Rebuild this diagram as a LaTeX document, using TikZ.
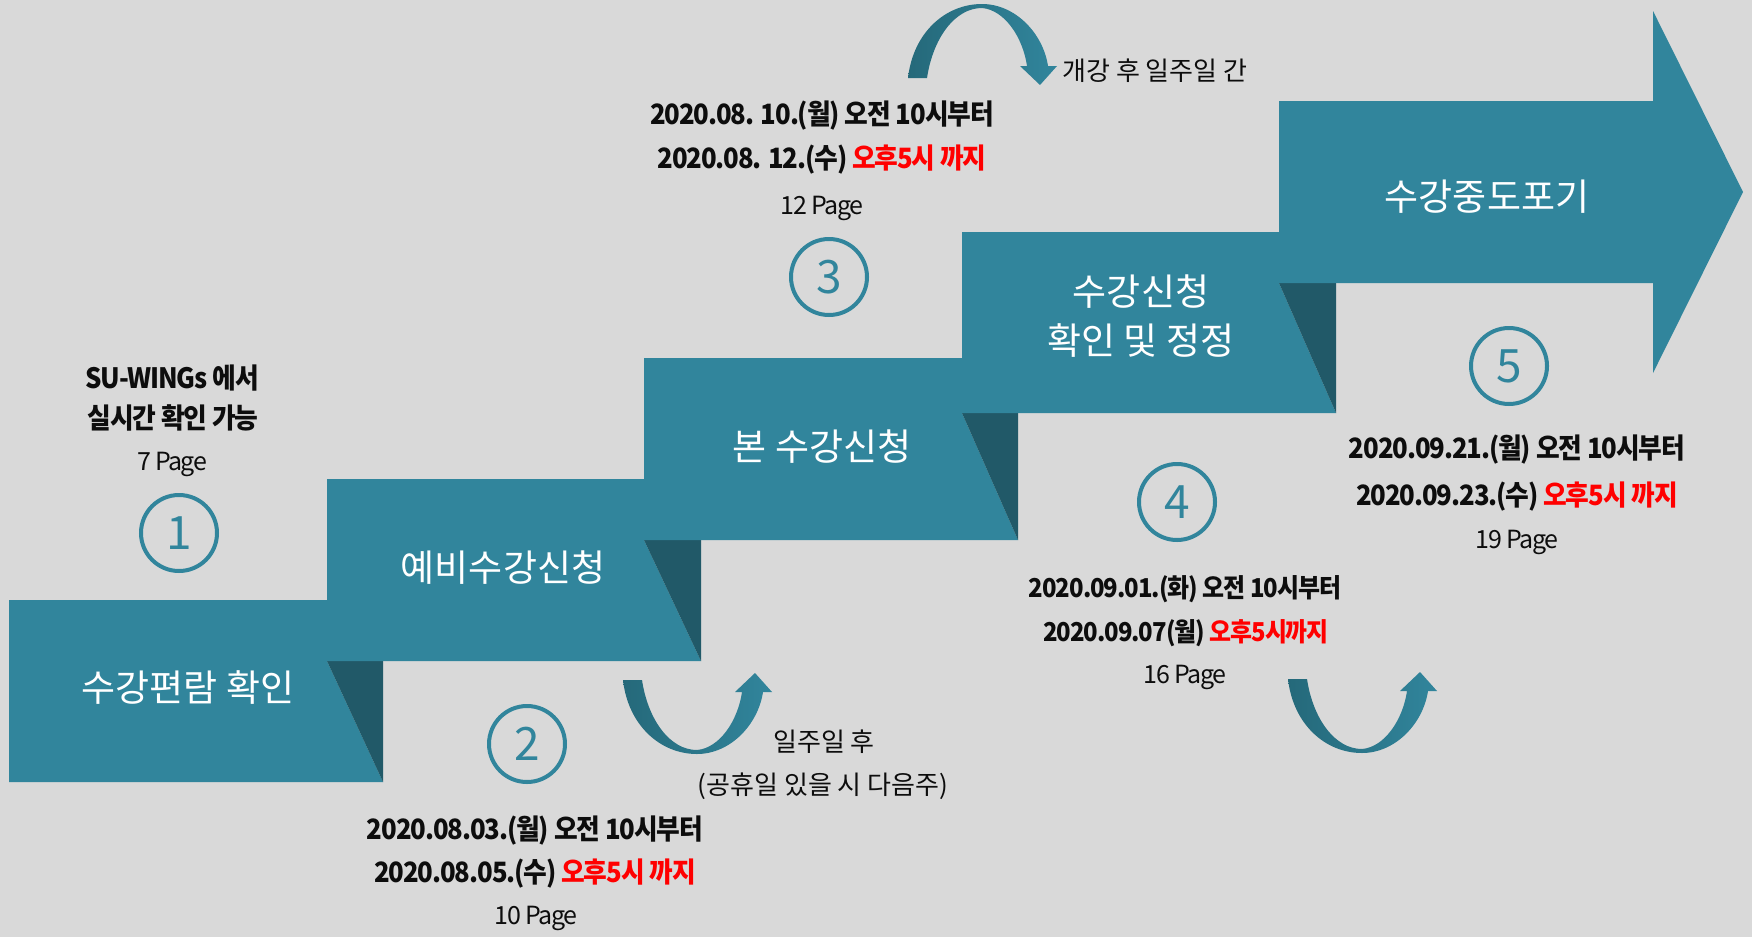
\documentclass[tikz,border=0pt]{standalone}
\usepackage{fontspec}
\setmainfont{Noto Sans CJK KR}
\newfontfamily\dfont[LetterSpace=-4,FakeStretch=0.92]{Noto Sans CJK KR}
\newfontfamily\pfont[LetterSpace=-6]{Noto Sans CJK KR}
\definecolor{bgc}{HTML}{D9D9D9}
\definecolor{tealc}{HTML}{31859C}
\definecolor{darkc}{HTML}{215968}
\definecolor{arrdark}{HTML}{25697A}
\definecolor{redc}{HTML}{FF0000}
\definecolor{txtc}{HTML}{0D0D0D}
\newcommand\bentarrow{%
  \shade[left color=arrdark, right color=tealc]
    (0,0) .. controls (5,45) and (37,74) .. (74,74)
    .. controls (107,74) and (135,45) .. (140,12)
    -- (149,12) -- (132,-7) -- (112,12) -- (119,12)
    .. controls (115,40) and (97,68) .. (74,70)
    .. controls (47,70) and (25,40) .. (19,0) -- cycle;}
\begin{document}
\begin{tikzpicture}[x=1pt,y=-1pt,
  lbl/.style={text=white, font=\fontsize{37}{49}\selectfont, inner sep=0, align=center},
  datel/.style={font=\dfont\bfseries\fontsize{28}{34}\selectfont, text=txtc, inner sep=0},
  datesm/.style={font=\dfont\bfseries\fontsize{26}{32}\selectfont, text=txtc, inner sep=0},
  pagel/.style={font=\pfont\fontsize{25}{28}\selectfont, text=txtc, inner sep=0},
  notel/.style={font=\fontsize{26}{30}\selectfont, text=txtc, inner sep=0},
  numc/.style={circle, draw=tealc, line width=4pt, minimum size=76pt, inner sep=0,
    text=tealc, font=\fontsize{46}{50}\selectfont},
  lightf/.style={fill=tealc},
  darkf/.style={fill=darkc}]
\useasboundingbox (0,0) rectangle (1752,937);
\fill[bgc] (0,0) rectangle (1752,937);

% step 1
\fill[lightf] (9,600) -- (327,600) -- (327,661) -- (383,782) -- (9,782) -- cycle;
\fill[darkf] (327,661) -- (383,661) -- (383,782) -- cycle;
% step 2
\fill[lightf] (327,479) -- (644,479) -- (644,540) -- (701,661) -- (327,661) -- cycle;
\fill[darkf] (644,540) -- (701,540) -- (701,661) -- cycle;
% step 3
\fill[lightf] (644,358) -- (962,358) -- (962,413) -- (1018,540) -- (644,540) -- cycle;
\fill[darkf] (962,413) -- (1018,413) -- (1018,540) -- cycle;
% step 4
\fill[lightf] (962,232) -- (1279,232) -- (1279,283) -- (1336,413) -- (962,413) -- cycle;
\fill[darkf] (1279,283) -- (1336,283) -- (1336,413) -- cycle;
% step 5 arrow
\fill[lightf] (1279,101) -- (1653,101) -- (1653,11) -- (1743,192) -- (1653,373)
  -- (1653,283) -- (1279,283) -- cycle;

% step labels
\node[lbl] (s1) at (188,688) {수강편람 확인};
\node[lbl] (s2) at (503,568) {예비수강신청};
\node[lbl] (s3) at (822,447) {본 수강신청};
\node[lbl] (s4) at (1141,316) {수강신청\\확인 및 정정};
\node[lbl] (s5) at (1487,197) {수강중도포기};

% bent arrows
\begin{scope}[shift={(623,680)}]\bentarrow\end{scope}
\begin{scope}[shift={(1288,679)}]\bentarrow\end{scope}
\begin{scope}[shift={(908,78)}, yscale=-1]\bentarrow\end{scope}

% circled numbers
\node[numc] (c1) at (179,533) {1};
\node[numc] (c2) at (527,744) {2};
\node[numc] (c3) at (829,277) {3};
\node[numc] (c4) at (1177,502) {4};
\node[numc] (c5) at (1509,366) {5};

% texts 1
\node[datel] (a1) at (172,378) {SU-WINGs 에서};
\node[datel] (a2) at (173,418) {실시간 확인 가능};
\node[pagel] (a3) at (172,464) {7 Page};
% texts 2
\node[datel] (b1) at (535,831) {2020.08.03.(월) 오전 10시부터};
\node[datel] (b2) at (535,874) {2020.08.05.(수) \textcolor{redc}{오후5시 까지}};
\node[pagel] (b3) at (536,918) {10 Page};
% texts 3
\node[datel] (d1) at (822,116) {2020.08. 10.(월) 오전 10시부터};
\node[datel] (d2) at (822,160) {2020.08. 12.(수) \textcolor{redc}{오후5시 까지}};
\node[pagel] (d3) at (822,208) {12 Page};
% texts 4
\node[datesm] (e1) at (1185,589) {2020.09.01.(화) 오전 10시부터};
\node[datesm] (e2) at (1186,633) {2020.09.07(월) \textcolor{redc}{오후5시까지}};
\node[pagel] (e3) at (1185,677) {16 Page};
% texts 5
\node[datel] (f1) at (1517,450) {2020.09.21.(월) 오전 10시부터};
\node[datel] (f2) at (1517,497) {2020.09.23.(수) \textcolor{redc}{오후5시 까지}};
\node[pagel] (f3) at (1517,542) {19 Page};

% notes
\node[notel] (n1) at (1155,71) {개강 후 일주일 간};
\node[notel] (n2) at (824,742) {일주일 후};
\node[notel] (n3) at (823,786) {(공휴일 있을 시 다음주)};
\end{tikzpicture}
\end{document}
